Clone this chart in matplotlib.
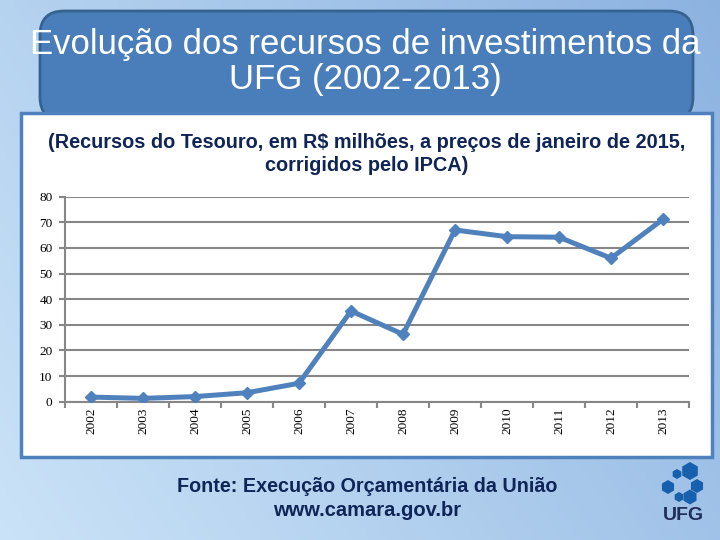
import matplotlib
matplotlib.use("Agg")
import matplotlib.pyplot as plt
import numpy as np
from matplotlib.patches import FancyBboxPatch, Rectangle, RegularPolygon

years = ["2002", "2003", "2004", "2005", "2006", "2007", "2008", "2009", "2010", "2011", "2012", "2013"]
values = [1.8, 1.3, 2.0, 3.5, 7.2, 35.4, 26.3, 67.0, 64.4, 64.2, 56.0, 71.2]
yticks = [0, 10, 20, 30, 40, 50, 60, 70, 80]

title = "Evolução dos recursos de investimentos da\nUFG (2002-2013)"
subtitle = "(Recursos do Tesouro, em R$ milhões, a preços de janeiro de 2015,\ncorrigidos pelo IPCA)"
source1 = "Fonte: Execução Orçamentária da União"
source2 = "www.camara.gov.br"

W, H = 720, 540
fig = plt.figure(figsize=(7.2, 5.4), dpi=100)

# background gradient
bg = fig.add_axes([0, 0, 1, 1])
bg.set_xlim(0, W); bg.set_ylim(H, 0); bg.axis("off")
yy, xx = np.mgrid[0:H:4, 0:W:4]
t = np.clip(xx / W * 0.6 + (H - yy) / H * 0.3 + 0.1, 0, 1)
c1 = np.array([0.82, 0.91, 0.98])
c2 = np.array([0.55, 0.70, 0.88])
img = c1[None, None, :] * (1 - t[..., None]) + c2[None, None, :] * t[..., None]
bg.imshow(img, extent=[0, W, H, 0], aspect="auto", zorder=0)

# title box
bg.add_patch(FancyBboxPatch((40, 11), 653, 110, boxstyle="round,pad=0,rounding_size=24",
                            fc="#4A7EBB", ec="#35628F", lw=2, zorder=1))
bg.text(365, 62, title, color="white", fontsize=25, ha="center", va="center",
        family="Liberation Sans", linespacing=1.04, zorder=3)

# white content box
bg.add_patch(Rectangle((21, 113), 691, 344, fc="white", ec="#4F81BD", lw=2.5, zorder=2))
bg.text(367, 154, subtitle, color="#0F2557", fontsize=14.3, fontweight="bold",
        ha="center", va="center", family="Liberation Sans", linespacing=1.22, zorder=3)

# footer
bg.text(367, 486, source1, color="#0F2557", fontsize=14.2, fontweight="bold",
        ha="center", va="center", family="Liberation Sans", zorder=3)
bg.text(367, 510, source2, color="#0F2557", fontsize=14.5, fontweight="bold",
        ha="center", va="center", family="Liberation Sans", zorder=3)

# UFG logo
logo_col = "#1660AE"
for (cx, cy, r) in [(690, 471, 9), (677, 474, 5), (668, 487, 7), (697, 486, 7),
                    (679, 497, 5), (690, 497, 7.5)]:
    bg.add_patch(RegularPolygon((cx, cy), 6, radius=r, fc=logo_col, ec="none", zorder=3))
bg.text(683, 516, "UFG", color="#1F2E5A", fontsize=14, fontweight="bold",
        ha="center", va="center", family="Liberation Sans", zorder=3)

# chart
ax = fig.add_axes([65 / W, 1 - 401.7 / H, (689 - 65) / W, (401.7 - 196.7) / H])
ax.set_facecolor("none")
x = np.arange(len(years))
ax.plot(x, values, color="#4F81BD", lw=3.6, marker="D", ms=6.5, zorder=3)
ax.set_xlim(-0.5, len(years) - 0.5)
ax.set_ylim(0, 80)
ax.set_yticks(yticks)
ax.set_yticklabels([str(v) for v in yticks], family="Liberation Serif", fontsize=9.5)
ax.yaxis.grid(True, color="#878787", lw=1.5)
ax.set_axisbelow(True)
for s in ["top", "right"]:
    ax.spines[s].set_visible(False)
ax.spines["left"].set_color("#878787"); ax.spines["left"].set_linewidth(1.5)
ax.spines["bottom"].set_color("#878787"); ax.spines["bottom"].set_linewidth(1.5)
ax.tick_params(axis="y", length=4, color="#878787", width=1.5, pad=5)
ax.set_xticks(np.arange(-0.5, len(years), 1.0))
ax.set_xticklabels([])
ax.tick_params(axis="x", length=4, color="#878787", width=1.5)
ax.set_xticks(x, minor=True)
ax.set_xticklabels(years, minor=True, rotation=90, family="Liberation Serif",
                   fontsize=9.5)
ax.tick_params(axis="x", which="minor", length=0, pad=4)

fig.savefig("out.png", dpi=100)
